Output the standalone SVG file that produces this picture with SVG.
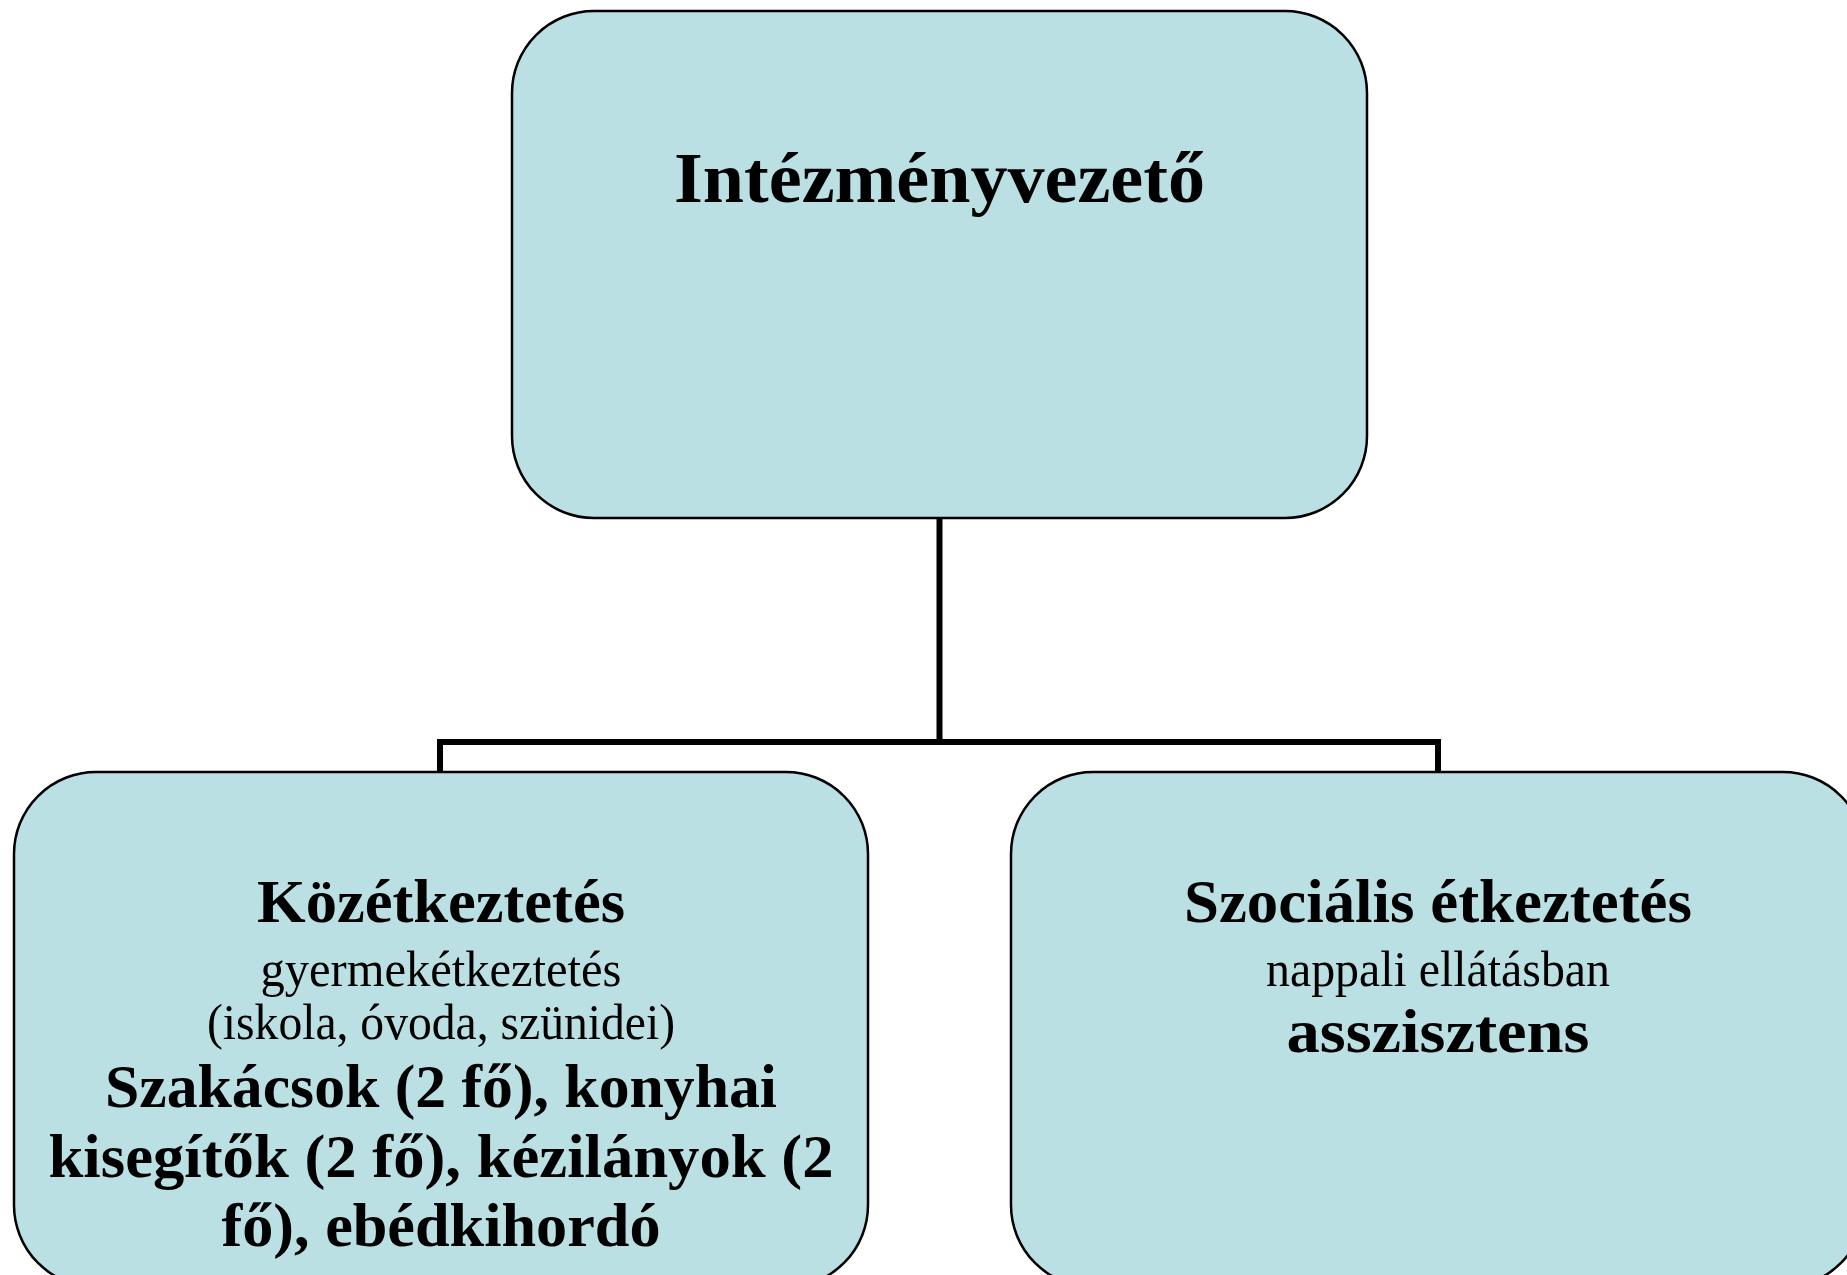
<svg xmlns="http://www.w3.org/2000/svg" width="1847" height="1275" viewBox="0 0 1847 1275">
<style>
.box{fill:#bae0e3;stroke:#000;stroke-width:2.5}
.t{font-family:"Liberation Serif","Times New Roman",serif;fill:#000;text-anchor:middle}
.b{font-weight:bold}
.conn{fill:none;stroke:#000;stroke-width:6;stroke-linejoin:miter}
</style>
<rect width="1847" height="1275" fill="#fff"/>
<g id="connectors">
<path class="conn" d="M939.5 518 V742"/>
<path class="conn" d="M440 773 V742 H1438 V773"/>
</g>
<g id="node-top">
<rect class="box" x="512" y="11" width="855" height="507" rx="82" ry="82"/>
<text class="t b" x="939.5" y="202" font-size="72" textLength="531" lengthAdjust="spacingAndGlyphs">Intézményvezető</text>
</g>
<g id="node-left">
<rect class="box" x="14" y="772" width="854" height="515" rx="82" ry="82"/>
<text class="t b" x="441" y="922" font-size="62" textLength="368" lengthAdjust="spacingAndGlyphs">Közétkeztetés</text>
<text class="t" x="441" y="986" font-size="50" textLength="361" lengthAdjust="spacingAndGlyphs">gyermekétkeztetés</text>
<text class="t" x="441" y="1039" font-size="50" textLength="468" lengthAdjust="spacingAndGlyphs">(iskola, óvoda, szünidei)</text>
<text class="t b" x="441" y="1107" font-size="62" textLength="672" lengthAdjust="spacingAndGlyphs">Szakácsok (2 fő), konyhai</text>
<text class="t b" x="441" y="1177" font-size="62" textLength="785" lengthAdjust="spacingAndGlyphs">kisegítők (2 fő), kézilányok (2</text>
<text class="t b" x="441" y="1246" font-size="62" textLength="439" lengthAdjust="spacingAndGlyphs">fő), ebédkihordó</text>
</g>
<g id="node-right">
<rect class="box" x="1011" y="772" width="854" height="515" rx="82" ry="82"/>
<text class="t b" x="1438" y="922" font-size="62" textLength="508" lengthAdjust="spacingAndGlyphs">Szociális étkeztetés</text>
<text class="t" x="1438" y="986" font-size="50" textLength="344" lengthAdjust="spacingAndGlyphs">nappali ellátásban</text>
<text class="t b" x="1438" y="1052" font-size="62" textLength="303" lengthAdjust="spacingAndGlyphs">asszisztens</text>
</g>
</svg>
